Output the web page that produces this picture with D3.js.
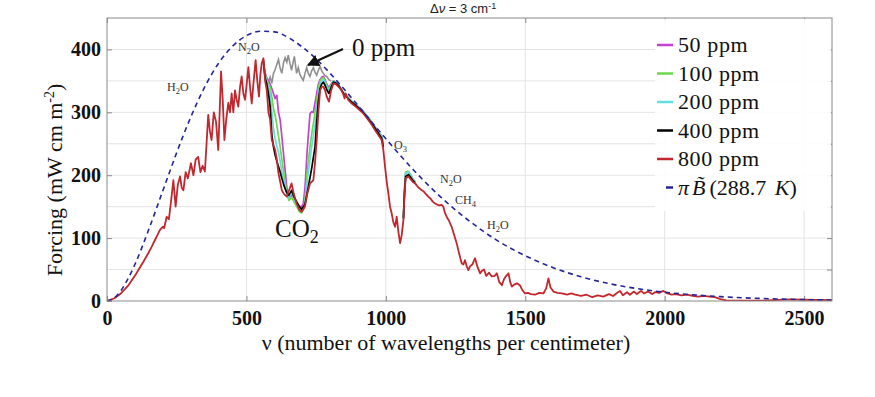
<!DOCTYPE html>
<html><head><meta charset="utf-8">
<script src="https://cdn.jsdelivr.net/npm/d3@7"></script>
<style>body{margin:0;background:#fff}</style>
</head><body><svg id="c" width="875" height="397"></svg>
<script>
// ---------- DATA ----------
const xTicks = [0, 500, 1000, 1500, 2000, 2500];
const yTicks = [0, 100, 200, 300, 400];
const yGrid = [50, 100, 150, 200, 250, 300, 350, 400];

const legendNames = ["50 ppm", "100 ppm", "200 ppm", "400 ppm", "800 ppm"];
const legendColors = ["#c63fd3", "#6cd84a", "#63dede", "#000000", "#c1272d"];

// Blackbody curve pi*B(288.7 K)
const planckNu  = [0,25,50,75,100,150,200,250,300,350,400,450,500,550,600,650,700,750,800,850,900,950,1000,1100,1200,1300,1400,1500,1600,1700,1800,1900,2000,2200,2400,2600];
const planckVal = [0,4.4,16.5,35,58,114,175,236,292,340,378,405,422,429,428,419,404,385,362,337,311,284,258,208,164,127,96,72,53,38.5,27.7,19.8,14,6.9,3.3,1.5];

// 800 ppm spectrum [wavenumber, forcing]
const spec800 = [
[0,0],[25,4],[50,12],[75,24],[100,40],[112,49],[130,62],[148,76],[160,86],[172,97],[180,104],[190,113],[200,118],[205,116],[214,134],[222,130],[230,160],[238,192],[246,150],[254,185],[262,198],[268,180],[274,176],[282,205],[290,195],[301,219],[310,200],[318,225],[327,229],[335,205],[343,215],[351,206],[357,250],[363,296],[369,270],[375,256],[383,300],[391,285],[399,240],[404,300],[409,365],[415,320],[421,256],[428,290],[435,315],[441,300],[447,330],[453,300],[459,335],[465,320],[471,309],[477,340],[483,357],[489,330],[495,320],[501,345],[507,372],[513,340],[519,314],[526,350],[533,383],[539,350],[545,325],[550,360],[555,378],[561,386],[567,350],[573,335],[579,300],[585,288],[591,256],[597,248],[603,240],[609,225],[615,203],[621,190],[627,176],[635,170],[645,166],[652,175],[662,187],[670,170],[680,155],[690,145],[698,142],[704,146],[710,150],[718,170],[728,187],[740,192],[746,220],[752,256],[758,300],[764,335],[770,341],[776,341],[782,335],[788,325],[796,317],[804,335],[812,346],[820,345],[830,341],[840,336],[848,328],[852,322],[856,330],[865,320],[878,314],[895,308],[913,301],[925,295],[937,288],[950,280],[961,272],[973,264],[985,256],[991,240],[997,214],[1003,190],[1009,171],[1015,150],[1021,139],[1027,125],[1033,118],[1039,134],[1045,110],[1051,92],[1057,105],[1063,129],[1067,170],[1071,195],[1081,198],[1090,193],[1098,189],[1105,187],[1112,183],[1118,180],[1124,178],[1129,176],[1136,174],[1144,170],[1152,166],[1160,163],[1168,158],[1177,155],[1185,153],[1192,152],[1200,153],[1206,150],[1212,140],[1218,134],[1226,128],[1236,118],[1245,105],[1254,92],[1263,75],[1272,60],[1278,58],[1284,65],[1290,55],[1296,49],[1302,55],[1310,58],[1320,68],[1328,55],[1338,44],[1345,48],[1352,50],[1360,40],[1370,45],[1380,39],[1390,40],[1398,44],[1407,30],[1416,25],[1424,35],[1432,40],[1440,44],[1446,30],[1452,23],[1460,26],[1470,28],[1481,25],[1490,17],[1499,12],[1510,13],[1520,11],[1535,10],[1550,13],[1565,12],[1575,20],[1583,36],[1590,22],[1601,15],[1615,13],[1631,12],[1650,10],[1665,12],[1679,10],[1700,8],[1720,10],[1740,6],[1760,9],[1780,7],[1800,11],[1815,8],[1830,13],[1840,16],[1850,9],[1865,14],[1875,10],[1890,15],[1900,11],[1915,16],[1925,12],[1940,15],[1955,11],[1965,14],[1980,13],[1995,16],[2010,12],[2025,10],[2040,11],[2060,9],[2080,10],[2100,8],[2120,7],[2140,8],[2160,7],[2180,6],[2200,3],[2220,1],[2260,0.5],[2300,0.5],[2350,0.5],[2390,1.5],[2450,2.5],[2500,2],[2600,1.5]
];

// Lower concentrations differ from 800 ppm only in the CO2 band and the O3 peak
const bandNu = [560,567,573,579,585,591,597,603,609,615,621,627,635,645,652,662,670,680,690,698,704,710,718,728,734,740,746,752,758,764,770,776,782,788,796,804,812,820,830,848,865,878,895,913,937,961,985,991,1030,1063,1067,1071,1081,1090,1098,1105];
const f400 = [384,355,345,330,309,265,245,232,222,214,205,195,183,172,168,176,166,158,150,146,150,154,172,196,211,228,245,285,318,338,345,348,343,336,330,340,348,347,343,330,322,316,310,303,290,275,259,245,null,131,172,198,201,196,191,188];
const f200 = [384,358,350,340,330,300,275,258,246,236,222,205,190,170,165,172,163,152,146,145,148,156,190,225,245,262,280,305,328,345,350,352,348,340,334,342,349,348,344,331,323,317,311,304,292,277,262,250,null,133,176,203,205,199,193,189];
const f100 = [384,360,352,345,340,325,306,295,280,262,245,225,200,172,160,165,158,150,142,140,145,160,205,245,265,282,300,318,338,350,354,355,350,343,337,344,350,348,344,331,323,317,311,304,292,277,262,250,null,133,177,205,206,200,193,189];
const f50  = [384,362,355,350,345,338,330,322,327,300,288,262,225,180,165,168,160,155,150,150,155,180,240,298,301,300,315,330,345,352,356,357,352,345,339,345,350,348,344,331,323,317,311,304,292,277,262,250,null,133,176,204,205,199,193,189];

// 0 ppm (no CO2)
const nu0 = [565,573,579,585,591,597,603,609,615,621,627,633,639,645,650,656,662,668,672,676,680,686,692,698,704,710,716,722,728,734,740,746,752,758,764,770,776,782,788,796,804];
const f0  = [370,342,348,356,346,362,368,376,384,370,362,379,387,380,391,378,367,381,389,375,362,371,360,355,351,362,371,362,357,366,371,364,359,367,373,366,362,358,357,352,350];

// ---------- DRAW ----------
const svg = d3.select('#c');
const L = 107, R = 832, T = 18, B = 301;
const x = d3.scaleLinear([0, 2600], [L, R]);
const y = d3.scaleLinear([0, 450], [B, T]);
const serif = "'Liberation Serif','Times New Roman',serif";

// grid
svg.append('g').selectAll('line').data(yGrid).join('line')
  .attr('x1', L).attr('x2', R).attr('y1', d => y(d)).attr('y2', d => y(d))
  .attr('stroke', '#e4e4e4').attr('stroke-width', 1);
svg.append('g').selectAll('line').data(xTicks.slice(1)).join('line')
  .attr('x1', d => x(d)).attr('x2', d => x(d)).attr('y1', T).attr('y2', B)
  .attr('stroke', '#e4e4e4').attr('stroke-width', 1);

// axes
function styleAxis(g, labels) {
  g.select('.domain').remove();
  g.attr('font-family', null).attr('font-size', null);
  g.selectAll('line').attr('stroke', '#8a8a8a');
  g.selectAll('text').style('font-family', serif).style('font-weight', 'bold')
    .style('font-size', '20px').attr('fill', '#111');
  if (!labels) g.selectAll('text').remove();
}
svg.append('g').attr('transform', `translate(0,${B})`)
  .call(d3.axisBottom(x).tickValues(xTicks).tickFormat(d3.format('d')).tickSize(-5).tickPadding(10))
  .call(g => styleAxis(g, true));
svg.append('g').attr('transform', `translate(${L},0)`)
  .call(d3.axisLeft(y).tickValues(yTicks).tickFormat(d3.format('d')).tickSize(-5).tickPadding(6))
  .call(g => styleAxis(g, true));
svg.append('g').attr('transform', `translate(0,${T})`)
  .call(d3.axisTop(x).tickValues(xTicks).tickSize(-5))
  .call(g => styleAxis(g, false));
svg.append('g').attr('transform', `translate(${R},0)`)
  .call(d3.axisRight(y).tickValues(yGrid).tickSize(-5))
  .call(g => styleAxis(g, false));

// clip
svg.append('clipPath').attr('id', 'clip').append('rect')
  .attr('x', L).attr('y', T).attr('width', R - L).attr('height', B - T);
const plot = svg.append('g').attr('clip-path', 'url(#clip)');

const line = d3.line().defined(d => d[1] != null).x(d => x(d[0])).y(d => y(d[1]));
const zipBand = arr => bandNu.map((n, i) => [n, arr[i]]);

plot.append('path').datum(nu0.map((n, i) => [n, f0[i]])).attr('d', line)
  .attr('fill', 'none').attr('stroke', '#8f8f8f').attr('stroke-width', 1.6);
[f50, f100, f200, f400].forEach((arr, i) => {
  plot.append('path').datum(zipBand(arr)).attr('d', line)
    .attr('fill', 'none').attr('stroke', legendColors[i]).attr('stroke-width', 1.7)
    .attr('stroke-linejoin', 'round');
});
plot.append('path').datum(spec800).attr('d', line)
  .attr('fill', 'none').attr('stroke', legendColors[4]).attr('stroke-width', 1.8)
  .attr('stroke-linejoin', 'round');
plot.append('path').datum(planckNu.map((n, i) => [n, planckVal[i]]))
  .attr('d', d3.line().curve(d3.curveMonotoneX).x(d => x(d[0])).y(d => y(d[1])))
  .attr('fill', 'none').attr('stroke', '#25259a').attr('stroke-width', 1.6)
  .attr('stroke-dasharray', '5,4');

// frame
svg.append('rect').attr('x', L).attr('y', T).attr('width', R - L).attr('height', B - T)
  .attr('fill', 'none').attr('stroke', '#8a8a8a').attr('stroke-width', 1);

// legend
svg.append('rect').attr('x', 655).attr('y', 19).attr('width', 176).attr('height', 192)
  .attr('fill', '#fff').attr('opacity', 0.9);
const lg = svg.append('g');
legendNames.forEach((name, i) => {
  const cy = 45 + i * 28.5;
  lg.append('line').attr('x1', 657).attr('x2', 673).attr('y1', cy).attr('y2', cy)
    .attr('stroke', legendColors[i]).attr('stroke-width', 2.5);
  lg.append('text').attr('x', 678).attr('y', cy + 7).style('font-family', serif)
    .style('font-size', '22px').attr('letter-spacing', 0.6).attr('fill', '#111').text(name);
});
{
  const cy = 45 + 5 * 28.5;
  lg.append('line').attr('x1', 666).attr('x2', 673).attr('y1', cy).attr('y2', cy)
    .attr('stroke', '#25259a').attr('stroke-width', 2.5);
  const t = lg.append('text').attr('x', 678).attr('y', cy + 7).style('font-family', serif)
    .style('font-size', '22px').attr('fill', '#111');
  t.append('tspan').attr('font-style', 'italic').text('\u03C0');
  t.append('tspan').attr('font-style', 'italic').attr('dx', 3).text('B\u0303');
  t.append('tspan').attr('dx', 4).text('(288.7 ');
  t.append('tspan').attr('font-style', 'italic').attr('dx', 3).text('K');
  t.append('tspan').text(')');
}

// axis titles
{
  const t = svg.append('text').attr('transform', 'translate(62,180) rotate(-90)')
    .attr('text-anchor', 'middle').style('font-family', serif).style('font-size', '22px').attr('fill', '#111');
  t.append('tspan').text('Forcing (mW cm m');
  t.append('tspan').style('font-size', '14px').attr('dy', -8).text('-2');
  t.append('tspan').attr('dy', 8).text(')');
}
svg.append('text').attr('x', 446).attr('y', 350).attr('text-anchor', 'middle')
  .style('font-family', serif).style('font-size', '22px').attr('fill', '#111')
  .text('\u03BD (number of wavelengths per centimeter)');

// title
{
  const t = svg.append('text').attr('x', 430).attr('y', 13)
    .style('font-family', "'Liberation Sans',Arial,sans-serif").style('font-size', '13px').attr('fill', '#222');
  t.append('tspan').text('\u0394');
  t.append('tspan').attr('font-style', 'italic').text('\u03BD');
  t.append('tspan').text(' =  3 cm');
  t.append('tspan').style('font-size', '9px').attr('dy', -4).text('-1');
}

// molecule annotations
const annots = [
  {x: 238, y: 51, base: 'N', sub: '2', tail: 'O'},
  {x: 167, y: 91, base: 'H', sub: '2', tail: 'O'},
  {x: 394, y: 149, base: 'O', sub: '3', tail: ''},
  {x: 440, y: 183, base: 'N', sub: '2', tail: 'O'},
  {x: 455, y: 204, base: 'CH', sub: '4', tail: ''},
  {x: 487, y: 229, base: 'H', sub: '2', tail: 'O'}
];
annots.forEach(a => {
  const t = svg.append('text').attr('x', a.x).attr('y', a.y).style('font-family', serif)
    .style('font-size', '12px').attr('fill', '#333');
  t.append('tspan').text(a.base);
  t.append('tspan').style('font-size', '8.5px').attr('dy', 3).text(a.sub);
  if (a.tail) t.append('tspan').attr('dy', -3).text(a.tail);
});

// 0 ppm label and arrow
svg.append('text').attr('x', 352).attr('y', 56).style('font-family', serif)
  .style('font-size', '25px').attr('fill', '#111').text('0 ppm');
svg.append('defs').append('marker').attr('id', 'ah').attr('viewBox', '0 0 10 10')
  .attr('refX', 9).attr('refY', 5).attr('markerWidth', 6).attr('markerHeight', 6)
  .attr('orient', 'auto').append('path').attr('d', 'M0,0 L10,5 L0,10 z').attr('fill', '#111');
svg.append('line').attr('x1', 343).attr('y1', 49).attr('x2', 308).attr('y2', 65)
  .attr('stroke', '#111').attr('stroke-width', 2).attr('marker-end', 'url(#ah)');

// CO2 label
{
  const t = svg.append('text').attr('x', 275).attr('y', 237).style('font-family', serif)
    .style('font-size', '25px').attr('fill', '#111');
  t.append('tspan').text('CO');
  t.append('tspan').style('font-size', '18px').attr('dy', 6).text('2');
}
</script></body></html>
